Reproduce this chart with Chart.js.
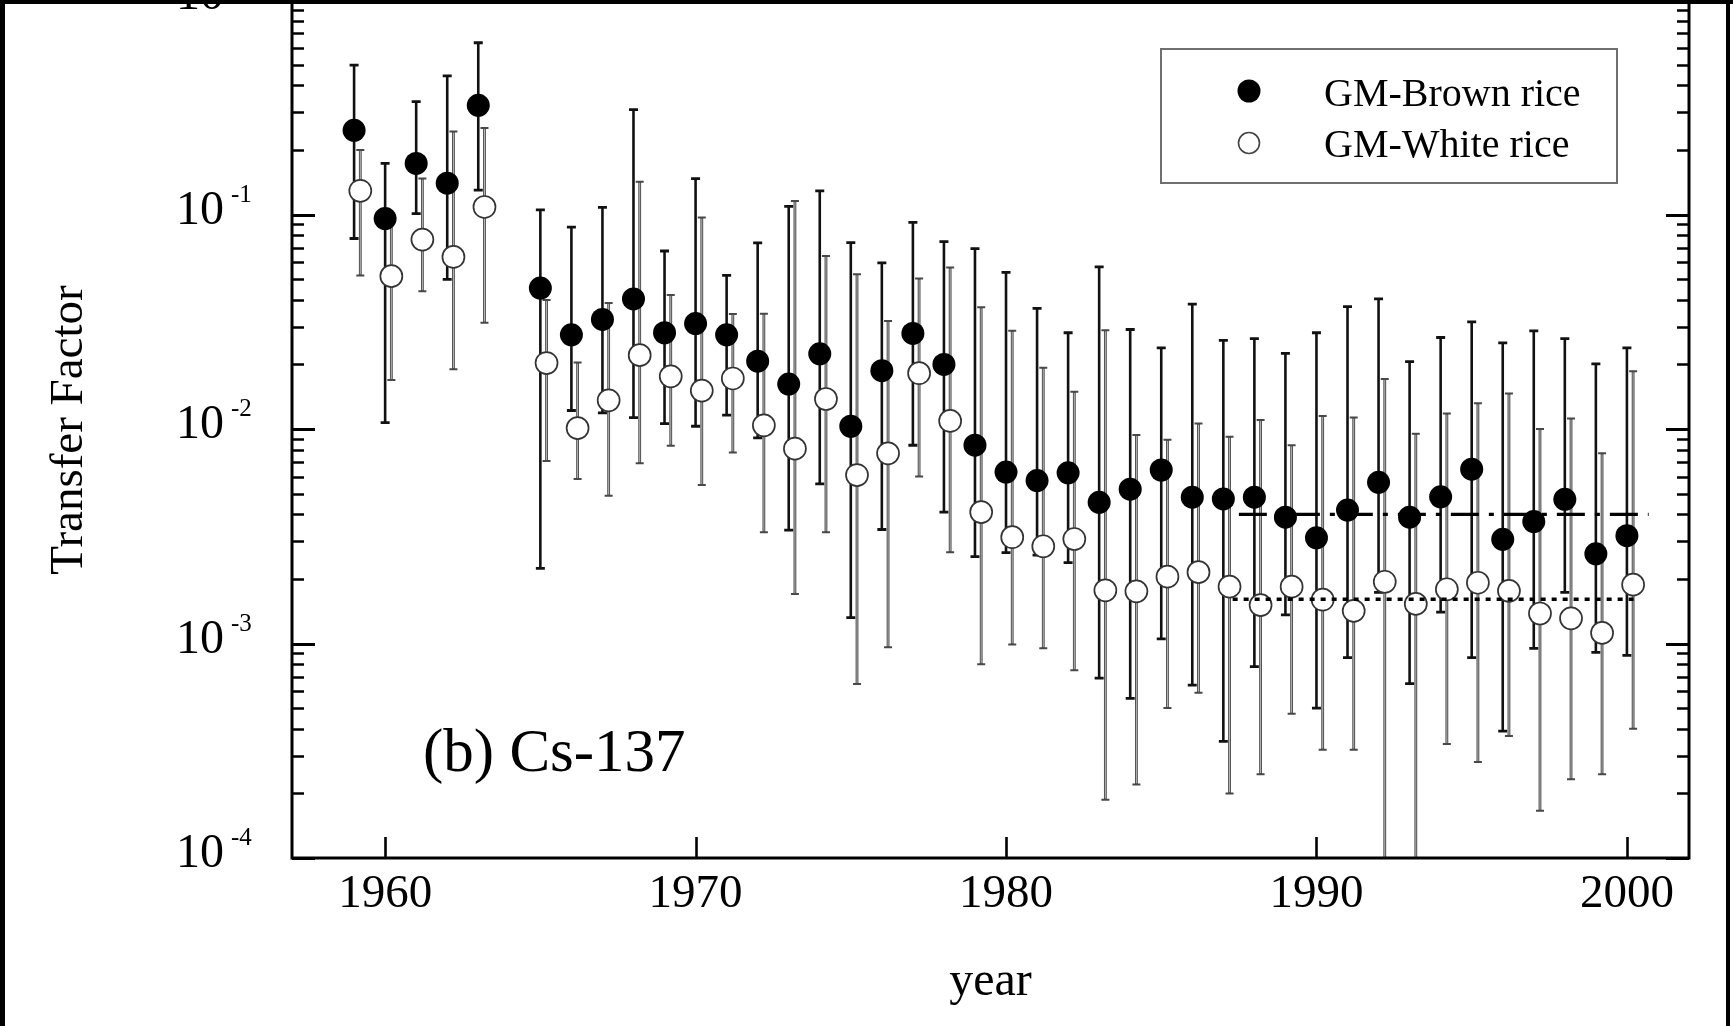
<!DOCTYPE html>
<html><head><meta charset="utf-8">
<script src="https://cdn.jsdelivr.net/npm/chart.js@4.4.1/dist/chart.umd.min.js"></script>
<style>html,body{margin:0;padding:0;background:#fff;}#wrap{position:relative;width:1733px;height:1026px;}canvas{display:block;}</style>
</head><body><div id="wrap"><canvas id="c" width="1733" height="1026"></canvas></div>
<script>
// ---- data ----
const years = [1959,1960,1961,1962,1963,1965,1966,1967,1968,1969,1970,1971,1972,1973,1974,1975,1976,1977,1978,1979,1980,1981,1982,1983,1984,1985,1986,1987,1988,1989,1990,1991,1992,1993,1994,1995,1996,1997,1998,1999,2000];
const brownValues = [0.247,0.0957,0.173,0.140,0.323,0.0454,0.0275,0.0324,0.0404,0.0281,0.0310,0.0275,0.0207,0.0162,0.0224,0.0103,0.0187,0.0279,0.0200,0.0084,0.0063,0.00575,0.00625,0.00455,0.00524,0.00644,0.00481,0.00472,0.00481,0.00388,0.00311,0.00419,0.00564,0.00388,0.00483,0.0065,0.00306,0.0037,0.0047,0.00262,0.00318];
const brownUpper = [0.497,0.173,0.336,0.443,0.632,0.105,0.0874,0.108,0.308,0.0676,0.147,0.052,0.0737,0.109,0.1288,0.074,0.0595,0.0918,0.0748,0.0693,0.0537,0.0365,0.0281,0.057,0.0291,0.0239,0.0382,0.0259,0.0264,0.0225,0.0281,0.0372,0.0404,0.0206,0.0267,0.0316,0.0252,0.0287,0.0264,0.0201,0.0239];
const brownLower = [0.0773,0.0107,0.101,0.0498,0.13,0.00224,0.0122,0.0119,0.0113,0.0106,0.0103,0.0116,0.0091,0.00338,0.00555,0.00132,0.0034,0.0084,0.0041,0.00254,0.00265,0.00258,0.00238,0.00069,0.000555,0.00105,0.00064,0.00035,0.00078,0.00136,0.0005,0.00086,0.00173,0.00065,0.0014,0.00086,0.00039,0.00095,0.00173,0.00091,0.00088];
const whiteValues = [0.129,0.0516,0.0764,0.0634,0.1084,0.0203,0.0101,0.0136,0.0221,0.0176,0.0151,0.0172,0.0104,0.0081,0.0138,0.0061,0.0077,0.0182,0.0109,0.0041,0.00313,0.00284,0.00307,0.00177,0.00175,0.00205,0.00215,0.00184,0.00151,0.00184,0.0016,0.00142,0.00194,0.00153,0.00179,0.00192,0.00176,0.00138,0.00131,0.00112,0.00188];
const whiteUpper = [0.2,0.095,0.147,0.244,0.253,0.0399,0.0204,0.0387,0.142,0.0421,0.0968,0.0344,0.0345,0.1155,0.0641,0.0527,0.0319,0.0503,0.0566,0.0369,0.0287,0.0193,0.0149,0.0289,0.00938,0.0089,0.0106,0.0092,0.011,0.0084,0.0115,0.0113,0.0171,0.0095,0.0118,0.0132,0.01465,0.01,0.0112,0.0077,0.0186];
const whiteLower = [0.052,0.0169,0.0439,0.019,0.0313,0.0071,0.00585,0.00489,0.00692,0.00836,0.00548,0.00778,0.0033,0.0017,0.0033,0.000647,0.00096,0.006,0.00266,0.0008,0.00099,0.00095,0.00075,0.000187,0.00022,0.0005,0.00059,0.0002,0.000246,0.00047,0.00032,0.00032,null,null,0.00034,0.00028,0.00037,0.000166,0.000233,0.000246,0.0004];
const whiteYearOffset = 0.2;           // white-rice points are plotted slightly right of the year
const meanLineYears = [1987.5, 2000.7]; // extent of the brown-rice mean line
const brownMean = 0.0040;
const whiteMeanYears = [1987.3, 2000.3];
const whiteMean = 0.00161;
const xTickLabels = [1960,1970,1980,1990,2000];
const yTickExponents = [-4,-3,-2,-1,0];
const seriesNames = ['GM-Brown rice','GM-White rice'];
const panelLabel = '(b) Cs-137';
const xTitle = 'year';
const yTitle = 'Transfer Factor';

const SERIF = '"Liberation Serif", "Times New Roman", serif';

const errorBars = {
  id: 'errorBars',
  beforeDatasetsDraw(chart) {
    const {ctx, chartArea: a, scales: {x, y}} = chart;
    ctx.save();
    ctx.beginPath(); ctx.rect(a.left, a.top, a.right - a.left, a.bottom - a.top); ctx.clip();
    ctx.lineCap = 'butt';
    const bar = (px, hi, lo, col, w, inner, capHalf, capW) => {
      const yt = y.getPixelForValue(hi);
      const yb = lo == null ? a.bottom + 2 : y.getPixelForValue(lo);
      ctx.strokeStyle = col; ctx.lineWidth = w;
      ctx.beginPath(); ctx.moveTo(px, yt); ctx.lineTo(px, yb); ctx.stroke();
      if (inner) { ctx.strokeStyle = inner; ctx.lineWidth = 0.9;
        ctx.beginPath(); ctx.moveTo(px, yt + 1); ctx.lineTo(px, yb - 1); ctx.stroke(); }
      ctx.strokeStyle = col; ctx.lineWidth = capW;
      ctx.beginPath(); ctx.moveTo(px - capHalf, yt); ctx.lineTo(px + capHalf, yt);
      if (lo != null) { ctx.moveTo(px - capHalf, yb); ctx.lineTo(px + capHalf, yb); }
      ctx.stroke();
    };
    years.forEach((yr, i) => {
      bar(x.getPixelForValue(yr), brownUpper[i], brownLower[i], '#111', 2.6, null, 4.5, 2.8);
    });
    years.forEach((yr, i) => {
      bar(x.getPixelForValue(yr + whiteYearOffset), whiteUpper[i], whiteLower[i], '#484848', 2.8, '#c4c4c4', 4, 2);
    });
    ctx.restore();
  }
};

const decorations = {
  id: 'decorations',
  afterDraw(chart) {
    const {ctx, chartArea: a, scales: {x, y}} = chart;
    ctx.save();
    // frame
    ctx.strokeStyle = '#000'; ctx.lineWidth = 3;
    ctx.strokeRect(a.left, a.top, a.right - a.left, a.bottom - a.top);
    // y ticks (inward, both sides)
    yTickExponents.forEach(e => {
      for (let m = 1; m <= 9; m++) {
        const v = m * Math.pow(10, e);
        if (v > 1.0000001) break;
        const py = Math.round(y.getPixelForValue(v)) + 0.5;
        const len = m === 1 ? 23 : 12;
        ctx.lineWidth = m === 1 ? 2.8 : 2.3;
        ctx.beginPath();
        ctx.moveTo(a.left, py); ctx.lineTo(a.left + len, py);
        ctx.moveTo(a.right, py); ctx.lineTo(a.right - len, py);
        ctx.stroke();
      }
    });
    // x ticks (inward)
    ctx.lineWidth = 2.6;
    xTickLabels.forEach(t => {
      const px = Math.round(x.getPixelForValue(t)) + 0.5;
      ctx.beginPath(); ctx.moveTo(px, a.bottom); ctx.lineTo(px, a.bottom - 21); ctx.stroke();
    });
    ctx.fillStyle = '#000';
    // x tick labels
    ctx.font = '47px ' + SERIF; ctx.textAlign = 'center'; ctx.textBaseline = 'alphabetic';
    xTickLabels.forEach(t => ctx.fillText(String(t), x.getPixelForValue(t), a.bottom + 49));
    // y tick labels 10^n
    yTickExponents.forEach(e => {
      const py = y.getPixelForValue(Math.pow(10, e));
      ctx.font = '48px ' + SERIF; ctx.textAlign = 'right';
      ctx.fillText('10', a.left - 68, py + 9);
      ctx.font = '25px ' + SERIF; ctx.textAlign = 'left';
      ctx.fillText(String(e), a.left - 61, py - 13);
    });
    // axis titles
    ctx.font = '48px ' + SERIF; ctx.textAlign = 'center';
    ctx.fillText(xTitle, (a.left + a.right) / 2, 995);
    ctx.save();
    ctx.translate(82, 430); ctx.rotate(-Math.PI / 2);
    ctx.font = '47px ' + SERIF; ctx.fillText(yTitle, 0, 0);
    ctx.restore();
    // panel label
    ctx.font = '61px ' + SERIF; ctx.textAlign = 'left';
    ctx.fillText(panelLabel, 423, 771);
    // legend
    ctx.strokeStyle = '#707070'; ctx.lineWidth = 2;
    ctx.strokeRect(1161, 49, 456, 134);
    ctx.fillStyle = '#000';
    ctx.beginPath(); ctx.arc(1249, 91, 11.5, 0, Math.PI * 2); ctx.fill();
    ctx.fillStyle = '#fff'; ctx.strokeStyle = '#444'; ctx.lineWidth = 1.6;
    ctx.beginPath(); ctx.arc(1249, 143, 10.5, 0, Math.PI * 2); ctx.fill(); ctx.stroke();
    ctx.fillStyle = '#000'; ctx.font = '40px ' + SERIF; ctx.textAlign = 'left';
    ctx.fillText(seriesNames[0], 1324, 106);
    ctx.fillText(seriesNames[1], 1324, 157);
    // screenshot border bands
    ctx.fillStyle = '#000';
    ctx.fillRect(0, 0, 1733, 4);
    ctx.fillRect(0, 0, 5, 1026);
    ctx.fillRect(1726, 0, 4, 1026);
    ctx.restore();
  }
};

new Chart(document.getElementById('c'), {
  type: 'scatter',
  data: {
    datasets: [
      { type: 'line', label: 'brown mean', data: meanLineYears.map(v => ({x: v, y: brownMean})),
        borderColor: '#000', borderWidth: 3.2, borderDash: [28, 10, 5, 10], pointRadius: 0, fill: false, order: 0 },
      { type: 'line', label: 'white mean', data: whiteMeanYears.map(v => ({x: v, y: whiteMean})),
        borderColor: '#000', borderWidth: 3.5, borderDash: [5, 6], pointRadius: 0, fill: false, order: 0 },
      { label: seriesNames[1], data: years.map((yr, i) => ({x: yr + whiteYearOffset, y: whiteValues[i]})),
        pointRadius: 11, pointBackgroundColor: '#fff', pointBorderColor: '#333', pointBorderWidth: 1.7, order: 1 },
      { label: seriesNames[0], data: years.map((yr, i) => ({x: yr, y: brownValues[i]})),
        pointRadius: 11.5, pointBackgroundColor: '#000', pointBorderColor: '#000', pointBorderWidth: 0, order: 2 }
    ]
  },
  options: {
    responsive: false, animation: false, devicePixelRatio: 1,
    layout: { autoPadding: false, padding: { left: 292, right: 44, top: 0, bottom: 168 } },
    plugins: { legend: { display: false }, tooltip: { enabled: false } },
    scales: {
      x: { type: 'linear', min: 1957, max: 2002, display: false },
      y: { type: 'logarithmic', min: 1e-4, max: 1, display: false }
    }
  },
  plugins: [errorBars, decorations]
});
</script></body></html>
